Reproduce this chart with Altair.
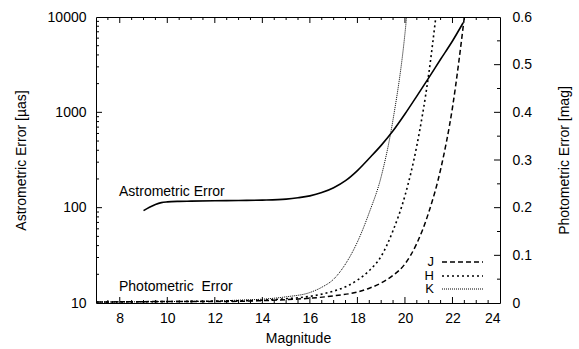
import altair as alt
import pandas as pd

# ---------------- data ----------------
mag_astro = [9.0, 9.25, 9.5, 9.75, 10.0, 10.5, 11.0, 12.0, 13.0, 14.0, 15.0, 15.5, 16.0,
             16.5, 17.0, 17.5, 18.0, 18.5, 19.0, 19.5, 20.0, 20.5, 21.0, 21.5, 22.0, 22.45]
err_astro = [93, 101, 108, 113, 115, 116.5, 117, 118, 119, 120, 123, 127, 133,
             144, 162, 192, 245, 330, 450, 640, 960, 1480, 2300, 3600, 5600, 8700]

mag_J = [7, 10, 12, 14, 15, 16, 17, 18, 18.5, 19, 19.5, 20, 20.5, 21, 21.5, 22, 22.5]
phot_J = [0.002, 0.003, 0.003, 0.005, 0.007, 0.010, 0.015, 0.023, 0.031, 0.042, 0.058,
          0.082, 0.125, 0.19, 0.28, 0.41, 0.60]

mag_H = [7, 10, 12, 14, 15, 16, 17, 17.5, 18, 18.5, 19, 19.5, 20, 20.5, 21, 21.3]
phot_H = [0.002, 0.003, 0.004, 0.006, 0.009, 0.014, 0.025, 0.034, 0.048, 0.068, 0.098,
          0.152, 0.225, 0.33, 0.48, 0.60]

mag_K = [7, 10, 12, 13, 14, 15, 16, 16.5, 17, 17.5, 18, 18.5, 19, 19.5, 20, 20.07]
phot_K = [0.002, 0.003, 0.004, 0.006, 0.008, 0.013, 0.022, 0.033, 0.05, 0.082, 0.128,
          0.19, 0.265, 0.385, 0.565, 0.60]

x_labels = [8, 10, 12, 14, 16, 18, 20, 22, 24]
x_minor = [7.5, 8.5, 9, 9.5, 10.5, 11, 11.5, 12.5, 13, 13.5, 14.5, 15, 15.5, 16.5, 17,
           17.5, 18.5, 19, 19.5, 20.5, 21, 21.5, 22.5, 23, 23.5]
x_major = [8, 10, 12, 14, 16, 18, 20, 22]
yl_labels = [10, 100, 1000, 10000]
yl_major = [100, 1000]
yl_minor = [20, 30, 40, 50, 60, 70, 80, 90, 200, 300, 400, 500, 600, 700, 800, 900,
            2000, 3000, 4000, 5000, 6000, 7000, 8000, 9000]
yr_labels = [0, 0.1, 0.2, 0.3, 0.4, 0.5, 0.6]
yr_major = [0.1, 0.2, 0.3, 0.4, 0.5]
yr_minor = [0.05, 0.15, 0.25, 0.35, 0.45, 0.55]

bands = ["J", "H", "K"]

# ---------------- layout ----------------
W, H = 404, 286
FONT = "Liberation Sans"
MAJ, MIN = 6, 3

xscale = alt.Scale(domain=[7, 24], nice=False, zero=False)
ylscale = alt.Scale(type="log", domain=[10, 10000], nice=False)
yrscale = alt.Scale(domain=[0, 0.6], nice=False, zero=False)

AX_STYLE = dict(ticks=False, domain=False, grid=False,
                labelFont=FONT, labelFontSize=14, labelColor="black",
                titleFont=FONT, titleFontSize=14, titleColor="black",
                titleFontWeight="normal")
XAXIS = alt.Axis(values=x_labels, labelPadding=8, titlePadding=6, format="d", **AX_STYLE)
YLAXIS = alt.Axis(values=yl_labels, orient="left", labelPadding=10, titlePadding=19,
                  format="d", **AX_STYLE)
YRAXIS = alt.Axis(values=yr_labels, orient="right", labelPadding=12, titlePadding=40,
                  titleAngle=270, format=".1~f", **AX_STYLE)
XT, YLT, YRT = "Magnitude", "Astrometric Error [µas]", "Photometric Error [mag]"


def X(field):
    return alt.X(field, scale=xscale, axis=XAXIS, title=XT)


def YL(field):
    return alt.Y(field, scale=ylscale, axis=YLAXIS, title=YLT)


def YR(field):
    return alt.Y(field, scale=yrscale, axis=YRAXIS, title=YRT)


astro_df = pd.DataFrame({"mag": mag_astro, "err": err_astro})
astro_line = alt.Chart(astro_df).mark_line(
    color="black", strokeWidth=1.6, interpolate="monotone", clip=True
).encode(x=X("mag:Q"), y=YL("err:Q"))


def xticks(vals, length):
    df = pd.DataFrame({"v": vals})
    base = alt.Chart(df).mark_rule(color="black", strokeWidth=1)
    bottom = base.encode(x=X("v:Q"), y=alt.value(H), y2=alt.value(H - length))
    top = base.encode(x=X("v:Q"), y=alt.value(0), y2=alt.value(length))
    return [bottom, top]


def yticks(vals, length, side):
    df = pd.DataFrame({"v": vals})
    base = alt.Chart(df).mark_rule(color="black", strokeWidth=1)
    if side == "left":
        return base.encode(y=YL("v:Q"), x=alt.value(0), x2=alt.value(length))
    return base.encode(y=YR("v:Q"), x=alt.value(W), x2=alt.value(W - length))


label_df = pd.DataFrame({"t": [0]})
astro_text = alt.Chart(label_df).mark_text(
    text="Astrometric Error", align="left", baseline="middle",
    font=FONT, fontSize=14, color="black"
).encode(x=alt.value(23), y=alt.value(175))
phot_text = alt.Chart(label_df).mark_text(
    text="Photometric\u00a0 Error", align="left", baseline="middle",
    font=FONT, fontSize=14, color="black"
).encode(x=alt.value(23), y=alt.value(270))

left_layers = [astro_line] + xticks(x_major, MAJ) + xticks(x_minor, MIN) + [
    yticks(yl_major, MAJ, "left"),
    yticks(yl_minor, MIN, "left"),
    astro_text, phot_text,
]
left = alt.layer(*left_layers)

styles = {
    "J": dict(strokeDash=[5, 3], strokeWidth=1.5),
    "H": dict(strokeDash=[2, 3], strokeWidth=1.6),
    "K": dict(strokeDash=[1, 1], strokeWidth=1.0),
}
mags = {"J": mag_J, "H": mag_H, "K": mag_K}
phots = {"J": phot_J, "H": phot_H, "K": phot_K}

right_layers = []
for b in bands:
    df = pd.DataFrame({"mag": mags[b], "phot": phots[b]})
    right_layers.append(
        alt.Chart(df).mark_line(color="black", interpolate="monotone", clip=True,
                                **styles[b]).encode(x=X("mag:Q"), y=YR("phot:Q"))
    )

right_layers += [yticks(yr_major, MAJ, "right"), yticks(yr_minor, MIN, "right")]

# legend (label left, line sample right)
leg_rows = [245, 259, 272]
for b, ry in zip(bands, leg_rows):
    right_layers.append(
        alt.Chart(pd.DataFrame({"band": [b]})).mark_text(
            align="right", baseline="middle", font=FONT, fontSize=13, color="black"
        ).encode(text="band:N", x=alt.value(338), y=alt.value(ry))
    )
    right_layers.append(
        alt.Chart(pd.DataFrame({"band": [b]})).mark_rule(color="black", **styles[b]).encode(
            x=alt.value(346), x2=alt.value(387), y=alt.value(ry))
    )

right = alt.layer(*right_layers)

chart = alt.layer(left, right).resolve_scale(y="independent").properties(
    width=W, height=H,
    background="white",
    autosize=alt.AutoSizeParams(type="none"),
    padding={"left": 96, "top": 17, "right": 79, "bottom": 46},
).configure_view(
    stroke="black", strokeWidth=1
)

chart.save("out.html", embed_options={"renderer": "svg", "actions": False})
